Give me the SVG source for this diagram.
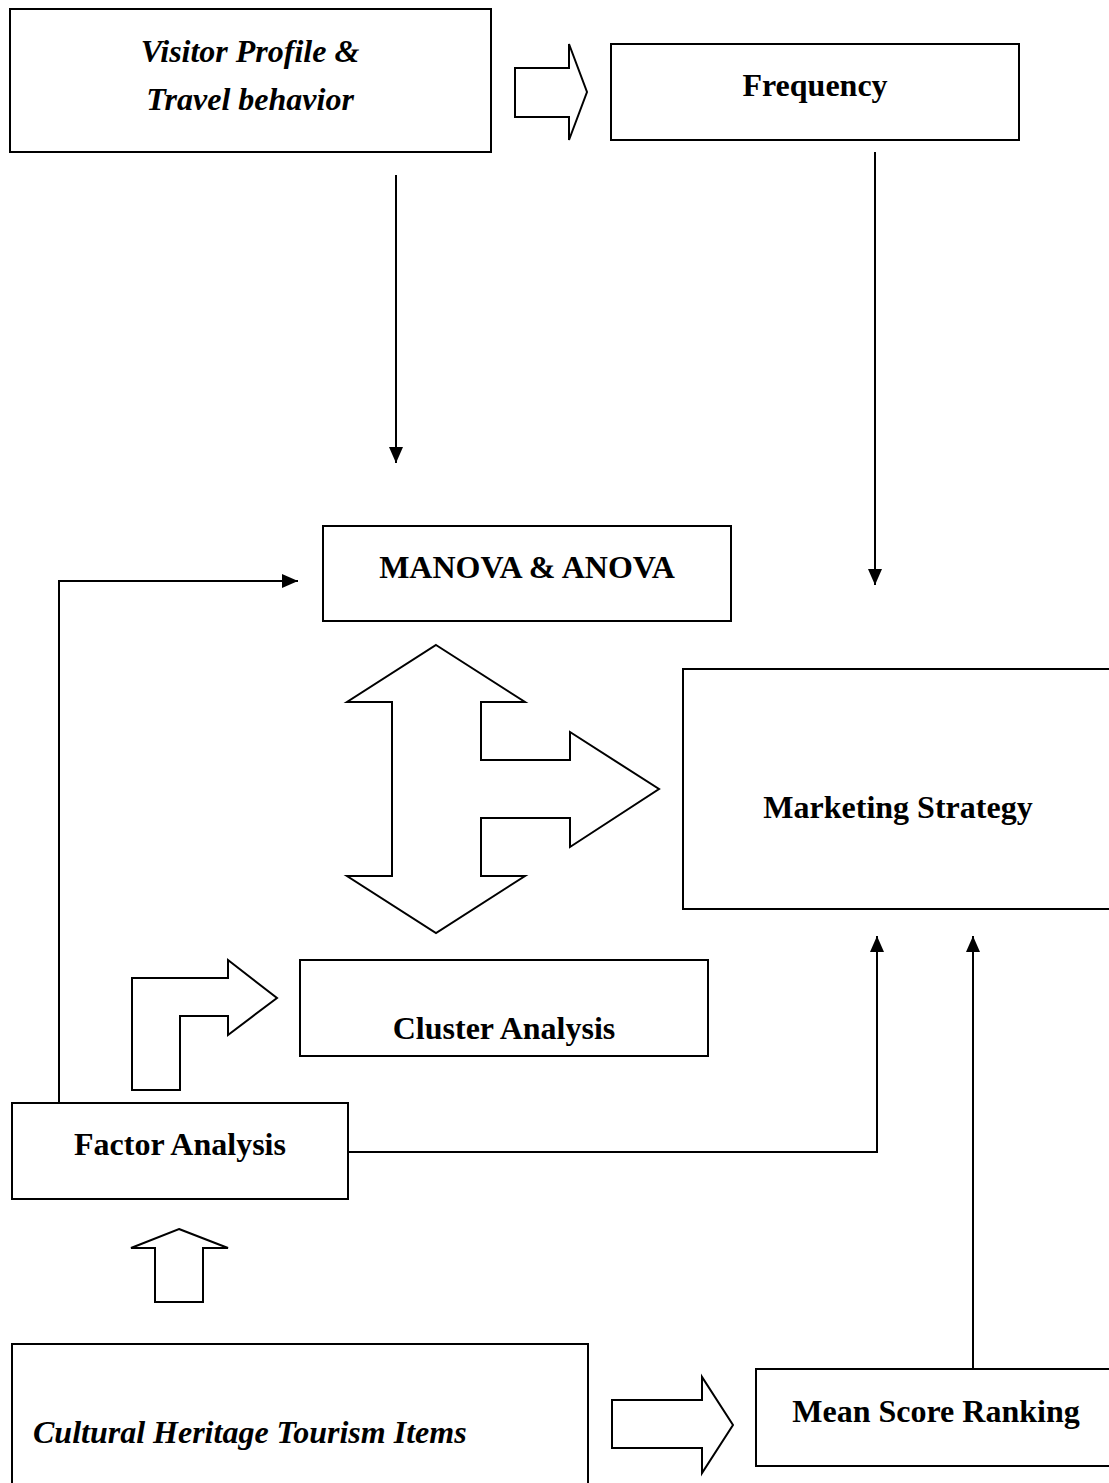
<svg xmlns="http://www.w3.org/2000/svg" width="1109" height="1483" viewBox="0 0 1109 1483">
<style>
.box{fill:#fff;stroke:#000;stroke-width:2}
.shape{fill:#fff;stroke:#000;stroke-width:2;stroke-linejoin:miter}
.t{font-family:"Liberation Serif","Times New Roman",serif;font-size:32px;font-weight:bold;fill:#000}
.i{font-style:italic}
.c{text-anchor:middle}
.conn{fill:none;stroke:#000;stroke-width:2}
</style>
<defs>
<marker id="ah" markerUnits="userSpaceOnUse" markerWidth="16" markerHeight="14" refX="16" refY="7" orient="auto">
<path d="M0,0 L16,7 L0,14 z" fill="#000"/>
</marker>
</defs>
<rect width="1109" height="1483" fill="#fff"/>

<g id="connectors">
<path class="conn" d="M396,175 V463" marker-end="url(#ah)"/>
<path class="conn" d="M875,152 V585" marker-end="url(#ah)"/>
<path class="conn" d="M59,1103 V581 H298" marker-end="url(#ah)"/>
<path class="conn" d="M348,1152 H877 V936" marker-end="url(#ah)"/>
<path class="conn" d="M973,1369 V936" marker-end="url(#ah)"/>
</g>

<g id="block-arrows">
<polygon id="arrow-top" class="shape" points="515,68 569,68 569,44 587,92 569,140 569,117 515,117"/>
<polygon id="arrow-cross" class="shape" points="436,645 525,702 481,702 481,760 570,760 570,732 659,789 570,847 570,818 481,818 481,876 525,876 436,933 347,876 392,876 392,702 347,702"/>
<polygon id="arrow-bent" class="shape" points="132,978 228,978 228,960 277,998 228,1035 228,1016 180,1016 180,1090 132,1090"/>
<polygon id="arrow-up" class="shape" points="179,1229 228,1248 203,1248 203,1302 155,1302 155,1248 131,1248"/>
<polygon id="arrow-bottom" class="shape" points="612,1400 702,1400 702,1377 733,1425 702,1473 702,1448 612,1448"/>
</g>

<g id="visitor">
<rect class="box" x="10" y="9" width="481" height="143"/>
<text class="t i c" x="250" y="62">Visitor Profile &amp;</text>
<text class="t i c" x="250" y="110">Travel behavior</text>
</g>

<g id="frequency">
<rect class="box" x="611" y="44" width="408" height="96"/>
<text class="t c" x="815" y="96">Frequency</text>
</g>

<g id="manova">
<rect class="box" x="323" y="526" width="408" height="95"/>
<text class="t c" x="527" y="578">MANOVA &amp; ANOVA</text>
</g>

<g id="marketing">
<rect class="box" x="683" y="669" width="440" height="240"/>
<text class="t c" x="898" y="818">Marketing Strategy</text>
</g>

<g id="cluster">
<rect class="box" x="300" y="960" width="408" height="96"/>
<text class="t c" x="504" y="1039">Cluster Analysis</text>
</g>

<g id="factor">
<rect class="box" x="12" y="1103" width="336" height="96"/>
<text class="t c" x="180" y="1155">Factor Analysis</text>
</g>

<g id="cultural">
<rect class="box" x="12" y="1344" width="576" height="160"/>
<text class="t i" x="33" y="1443">Cultural Heritage Tourism Items</text>
</g>

<g id="meanscore">
<rect class="box" x="756" y="1369" width="370" height="97"/>
<text class="t c" x="936" y="1422">Mean Score Ranking</text>
</g>
</svg>
